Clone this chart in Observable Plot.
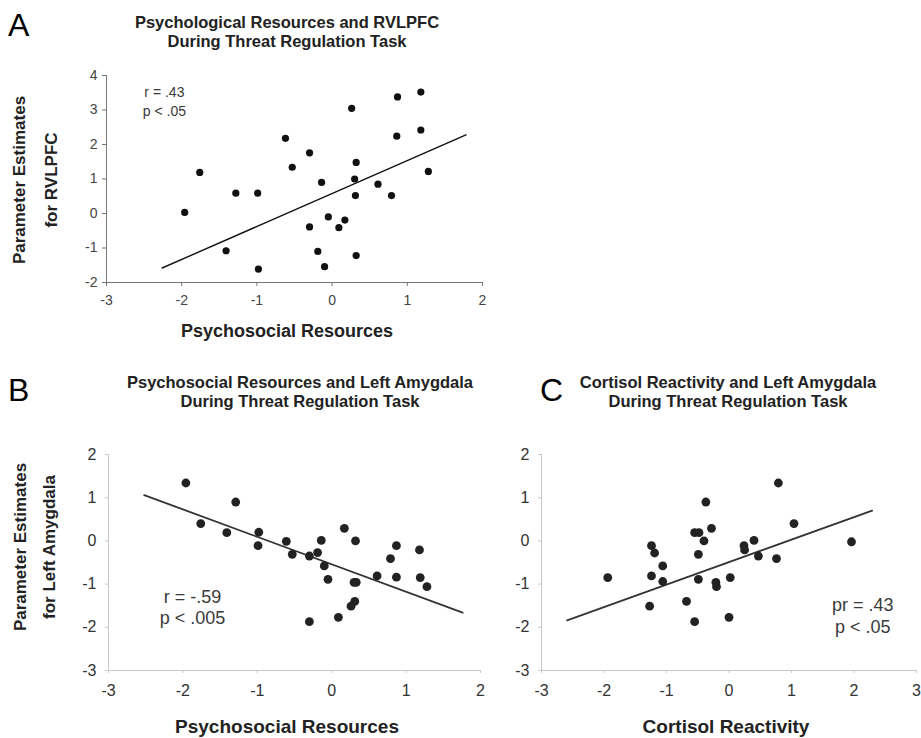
<!DOCTYPE html>
<html>
<head>
<meta charset="utf-8">
<script src="https://cdn.jsdelivr.net/npm/d3@7"></script>
<script src="https://cdn.jsdelivr.net/npm/@observablehq/plot@0.6"></script>
<style>
  html, body { margin: 0; padding: 0; background: white; }
  #root { position: relative; width: 921px; height: 738px; overflow: hidden; font-family: "Liberation Sans", Arial, sans-serif; }
  #root svg { overflow: visible; }
  .lbl { position: absolute; white-space: nowrap; color: #222; }
</style>
</head>
<body>
<div id="root"></div>
<script>
// ---------- Data ----------
// Panel A: Psychosocial Resources vs RVLPFC
const xA = [-1.96,-1.76,-1.28,-0.99,-1.41,-0.98,-0.62,-0.53,-0.30,-0.30,-0.14,-0.05,-0.19,-0.10,0.09,0.17,0.26,0.32,0.30,0.31,0.32,0.61,0.79,0.87,0.86,1.18,1.18,1.28];
const yA = [0.03,1.19,0.59,0.59,-1.08,-1.61,2.18,1.34,1.76,-0.39,0.90,-0.10,-1.10,-1.54,-0.41,-0.19,3.05,1.48,1.00,0.52,-1.22,0.85,0.52,3.38,2.24,3.52,2.42,1.22];
const fitA = [{x: -2.26, y: -1.58}, {x: 1.78, y: 2.28}];
const statsA = ["r = .43", "p < .05"];

// Panel B: Psychosocial Resources vs Left Amygdala
const xB = [-1.96,-1.29,-1.76,-1.41,-0.98,-0.99,-0.61,-0.53,-0.30,-0.19,-0.14,-0.10,-0.05,-0.30,0.09,0.17,0.32,0.30,0.33,0.31,0.26,0.61,0.79,0.87,0.87,1.18,1.19,1.28];
const yB = [1.34,0.90,0.40,0.19,0.20,-0.11,-0.01,-0.31,-0.35,-0.27,0.01,-0.58,-0.89,-1.87,-1.77,0.29,0.00,-0.96,-0.96,-1.40,-1.51,-0.81,-0.41,-0.11,-0.84,-0.21,-0.85,-1.06];
const fitB = [{x: -2.52, y: 1.06}, {x: 1.76, y: -1.66}];
const statsB = ["r = -.59", "p < .005"];

// Panel C: Cortisol Reactivity vs Left Amygdala
const xC = [-1.94,-1.24,-1.19,-1.24,-1.27,-1.06,-1.06,-0.68,-0.55,-0.55,-0.48,-0.49,-0.49,-0.37,-0.40,-0.28,-0.21,-0.20,0.02,0.00,0.24,0.25,0.40,0.47,0.76,0.79,1.04,1.96];
const yC = [-0.85,-0.11,-0.28,-0.81,-1.51,-0.58,-0.94,-1.40,-1.87,0.19,0.19,-0.31,-0.89,0.90,0.00,0.29,-0.96,-1.06,-0.85,-1.77,-0.11,-0.21,0.01,-0.35,-0.41,1.34,0.40,-0.02];
const fitC = [{x: -2.59, y: -1.84}, {x: 2.29, y: 0.70}];
const statsC = ["pr = .43", "p < .05"];

// Tick values
const ticksXAB = [-3, -2, -1, 0, 1, 2];
const ticksXC = [-3, -2, -1, 0, 1, 2, 3];
const ticksYA = [-2, -1, 0, 1, 2, 3, 4];
const ticksYBC = [-3, -2, -1, 0, 1, 2];

// Titles / labels
const titlesA = ["Psychological Resources and RVLPFC", "During Threat Regulation Task"];
const titlesB = ["Psychosocial Resources and Left Amygdala", "During Threat Regulation Task"];
const titlesC = ["Cortisol Reactivity and Left Amygdala", "During Threat Regulation Task"];
const yLabelA = ["Parameter Estimates", "for RVLPFC"];
const yLabelB = ["Parameter Estimates", "for Left Amygdala"];
const xLabelAB = "Psychosocial Resources";
const xLabelC = "Cortisol Reactivity";

// ---------- Drawing ----------
const root = document.getElementById("root");
const fmt = d => String(d);

function panel(o) {
  const pts = o.xs.map((x, i) => ({x, y: o.ys[i]}));
  const ann = o.stats.map((t, i) => ({x: o.annX, y: o.annY[i], text: t}));
  const svg = Plot.plot({
    width: o.width, height: o.height,
    marginLeft: o.ml, marginRight: o.mr, marginTop: o.mt, marginBottom: o.mb,
    style: {fontFamily: '"Liberation Sans", Arial, sans-serif', background: "transparent", overflow: "visible"},
    x: {domain: o.xDomain, label: null},
    y: {domain: o.yDomain, label: null},
    marks: [
      Plot.ruleX([o.xDomain[0]], {stroke: o.axisColor, strokeWidth: 1}),
      Plot.ruleY([o.yDomain[0]], {stroke: o.axisColor, strokeWidth: 1}),
      Plot.axisX({ticks: o.ticksX, tickFormat: fmt, tickSize: o.tickSize, tickPadding: o.padX, fontSize: o.tickFont, stroke: o.axisColor, fill: o.tickColor, label: null}),
      Plot.axisY({ticks: o.ticksY, tickFormat: fmt, tickSize: o.tickSize, tickPadding: o.padY, fontSize: o.tickFont, stroke: o.axisColor, fill: o.tickColor, label: null}),
      Plot.line(o.fit, {x: "x", y: "y", stroke: o.lineColor, strokeWidth: o.lineWidth}),
      Plot.dot(pts, {x: "x", y: "y", r: o.r, fill: o.dotColor, stroke: "none"}),
      Plot.text(ann, {x: "x", y: "y", text: "text", fontSize: o.annFont, fill: "#3a3a3a", textAnchor: "middle"})
    ]
  });
  svg.style.position = "absolute";
  svg.style.left = o.left + "px";
  svg.style.top = o.top + "px";
  root.appendChild(svg);
}

panel({
  xs: xA, ys: yA, fit: fitA, stats: statsA, annX: -2.23, annY: [3.5, 2.96],
  left: 0, top: 0, width: 500, height: 350, ml: 106, mr: 18, mt: 75, mb: 68,
  xDomain: [-3, 2], yDomain: [-2, 4], ticksX: ticksXAB, ticksY: ticksYA,
  axisColor: "#777", tickColor: "#444", tickSize: 4, padX: 9, padY: 5, tickFont: 14,
  lineColor: "#111", lineWidth: 1.4, r: 3.6, dotColor: "#111", annFont: 14
});
panel({
  xs: xB, ys: yB, fit: fitB, stats: statsB, annX: -1.87, annY: [-1.30, -1.80],
  left: 0, top: 360, width: 500, height: 378, ml: 108, mr: 20, mt: 94, mb: 68,
  xDomain: [-3, 2], yDomain: [-3, 2], ticksX: ticksXAB, ticksY: ticksYBC,
  axisColor: "#c8c8c8", tickColor: "#333", tickSize: 3, padX: 11, padY: 9, tickFont: 16,
  lineColor: "#333", lineWidth: 1.8, r: 4.4, dotColor: "#222", annFont: 18
});
panel({
  xs: xC, ys: yC, fit: fitC, stats: statsC, annX: 2.14, annY: [-1.50, -2.0],
  left: 500, top: 360, width: 421, height: 378, ml: 41, mr: 5, mt: 94, mb: 68,
  xDomain: [-3, 3], yDomain: [-3, 2], ticksX: ticksXC, ticksY: ticksYBC,
  axisColor: "#c8c8c8", tickColor: "#333", tickSize: 3, padX: 11, padY: 9, tickFont: 16,
  lineColor: "#333", lineWidth: 1.8, r: 4.4, dotColor: "#222", annFont: 18
});

// HTML labels positioned by cap-centre
function label(text, cx, cy, fs, weight, opts = {}) {
  const d = document.createElement("div");
  d.className = "lbl";
  d.textContent = text;
  d.style.fontSize = fs + "px";
  d.style.lineHeight = fs + "px";
  d.style.fontWeight = weight;
  if (opts.color) d.style.color = opts.color;
  d.style.left = cx + "px";
  d.style.top = cy + "px";
  let tr = "translate(" + (opts.anchor === "start" ? "0" : "-50%") + ",-50%)";
  if (opts.rotate) tr += " rotate(-90deg)";
  if (opts.sx) tr += " scaleX(" + opts.sx + ")";
  d.style.transform = tr;
  root.appendChild(d);
}

// panel letters
label("A", 8, 25, 32, "normal", {anchor: "start", color: "#000"});
label("B", 8, 390, 32, "normal", {anchor: "start", color: "#000"});
label("C", 540, 390, 32, "normal", {anchor: "start", color: "#000"});

// titles
label(titlesA[0], 287, 21.5, 16.5, "bold");
label(titlesA[1], 287, 41, 16.5, "bold");
label(titlesB[0], 300, 382, 16.5, "bold");
label(titlesB[1], 300, 401, 16.5, "bold");
label(titlesC[0], 728, 382, 16.5, "bold");
label(titlesC[1], 728, 401, 16.5, "bold");

// x labels
label(xLabelAB, 287, 331, 18, "bold");
label(xLabelAB, 287, 726, 19, "bold");
label(xLabelC, 726, 726, 19, "bold");

// y labels
label(yLabelA[0], 19, 180, 17, "bold", {rotate: true});
label(yLabelA[1], 51, 180, 17, "bold", {rotate: true});
label(yLabelB[0], 20, 547, 17, "bold", {rotate: true});
label(yLabelB[1], 49, 547, 17, "bold", {rotate: true});
</script>
</body>
</html>
